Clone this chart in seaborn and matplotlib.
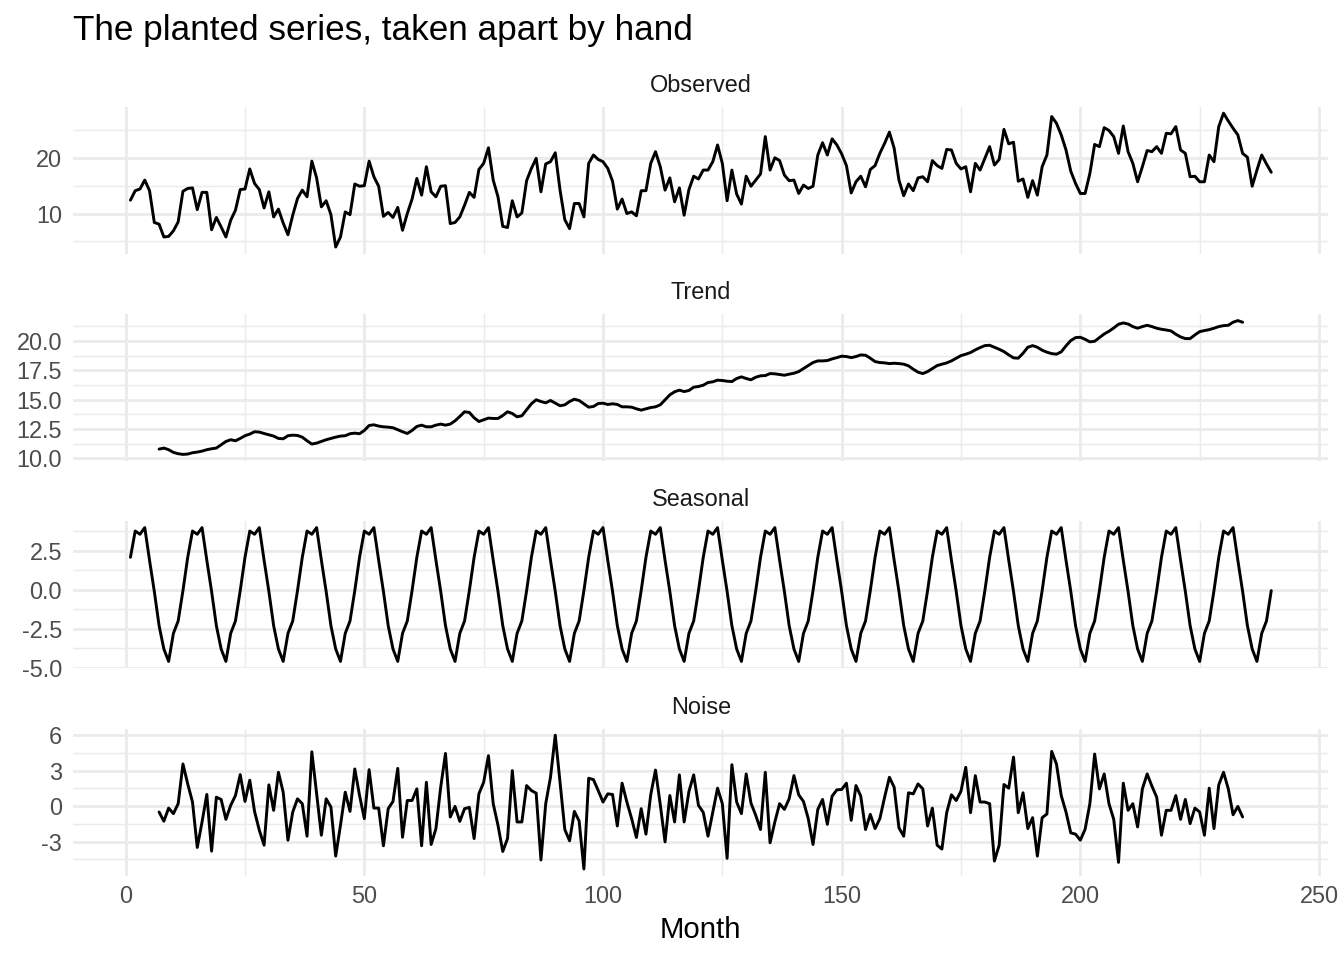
import numpy as np
import pandas as pd
import matplotlib
matplotlib.use("Agg")
import matplotlib.pyplot as plt
import seaborn as sns
from matplotlib.ticker import MultipleLocator, FormatStrFormatter

# ---- data ----
months = np.arange(1, 241)
observed = [
    12.4, 14.1, 14.4, 16.0, 14.1, 8.4, 8.1, 5.8, 5.9, 6.9,
    8.5, 14.0, 14.5, 14.6, 10.7, 13.8, 13.8, 7.1, 9.3, 7.6,
    5.8, 8.8, 10.6, 14.3, 14.4, 18.0, 15.4, 14.3, 11.0, 13.9,
    9.4, 10.8, 8.3, 6.2, 9.7, 12.7, 14.2, 13.0, 19.4, 16.4,
    11.2, 12.3, 9.8, 4.0, 5.8, 10.3, 9.8, 15.3, 14.9, 15.0,
    19.4, 16.6, 14.9, 9.5, 10.2, 9.3, 11.1, 7.0, 10.0, 12.6,
    16.3, 13.3, 18.4, 13.9, 13.0, 14.9, 15.0, 8.2, 8.4, 9.4,
    11.5, 13.8, 12.9, 17.9, 19.0, 21.8, 16.0, 13.0, 7.7, 7.5,
    12.3, 9.4, 10.1, 15.9, 18.1, 19.9, 13.9, 18.9, 19.3, 20.9,
    14.2, 8.9, 7.3, 11.8, 11.8, 9.4, 19.0, 20.5, 19.7, 19.3,
    18.1, 15.8, 10.8, 12.6, 10.0, 10.3, 9.6, 14.1, 14.1, 19.0,
    21.1, 18.4, 14.2, 16.4, 12.1, 14.6, 9.7, 14.3, 16.7, 16.2,
    17.8, 17.8, 19.3, 22.3, 19.0, 12.3, 17.8, 13.5, 11.7, 16.7,
    14.9, 16.0, 17.1, 23.8, 17.8, 20.0, 19.5, 16.9, 15.9, 16.0,
    13.6, 15.1, 14.5, 14.9, 20.5, 22.7, 20.5, 23.4, 22.3, 20.7,
    18.6, 13.7, 15.7, 16.7, 14.8, 17.9, 18.6, 20.8, 22.6, 24.6,
    21.7, 16.0, 13.2, 15.3, 14.1, 16.4, 16.6, 15.7, 19.5, 18.6,
    18.1, 21.5, 21.4, 19.0, 18.0, 18.4, 13.9, 19.0, 17.8, 19.9,
    22.0, 18.7, 19.7, 25.1, 22.5, 22.8, 15.8, 16.2, 12.9, 15.9,
    13.3, 18.4, 20.5, 27.4, 26.2, 24.1, 21.4, 17.6, 15.4, 13.6,
    13.6, 17.2, 22.4, 22.0, 25.4, 24.9, 23.8, 20.8, 25.7, 21.1,
    19.0, 15.7, 18.4, 21.3, 21.1, 22.0, 20.8, 24.4, 24.3, 25.6,
    21.4, 20.8, 16.6, 16.7, 15.7, 15.7, 20.5, 19.3, 25.6, 28.0,
    26.6, 25.3, 24.1, 20.8, 20.1, 14.9, 17.8, 20.5, 18.9, 17.4,
]

trend_months = np.arange(7, 235)
trend = [
    10.79, 10.88, 10.74, 10.51, 10.40, 10.34, 10.37, 10.48, 10.54, 10.62,
    10.74, 10.82, 10.88, 11.16, 11.44, 11.59, 11.50, 11.70, 11.93, 12.07,
    12.27, 12.24, 12.12, 12.01, 11.90, 11.70, 11.67, 11.93, 11.98, 11.95,
    11.81, 11.50, 11.22, 11.30, 11.44, 11.59, 11.70, 11.81, 11.90, 11.93,
    12.10, 12.15, 12.10, 12.38, 12.80, 12.86, 12.75, 12.69, 12.66, 12.61,
    12.44, 12.27, 12.12, 12.38, 12.72, 12.83, 12.69, 12.69, 12.83, 12.92,
    12.83, 12.92, 13.20, 13.57, 13.97, 13.91, 13.46, 13.14, 13.29, 13.43,
    13.40, 13.40, 13.65, 13.97, 13.82, 13.54, 13.63, 14.14, 14.65, 14.99,
    14.84, 14.73, 14.93, 14.70, 14.48, 14.56, 14.84, 15.04, 14.93, 14.65,
    14.36, 14.42, 14.67, 14.70, 14.59, 14.65, 14.59, 14.39, 14.39, 14.36,
    14.22, 14.11, 14.22, 14.33, 14.39, 14.56, 14.99, 15.41, 15.67, 15.81,
    15.69, 15.78, 16.06, 16.12, 16.23, 16.46, 16.52, 16.66, 16.63, 16.57,
    16.54, 16.80, 16.94, 16.80, 16.69, 16.91, 17.03, 17.05, 17.22, 17.20,
    17.14, 17.08, 17.17, 17.25, 17.39, 17.65, 17.90, 18.16, 18.30, 18.30,
    18.33, 18.47, 18.58, 18.70, 18.67, 18.58, 18.67, 18.81, 18.78, 18.53,
    18.24, 18.16, 18.13, 18.07, 18.10, 18.07, 18.02, 17.88, 17.59, 17.34,
    17.22, 17.39, 17.65, 17.90, 18.02, 18.13, 18.30, 18.53, 18.75, 18.87,
    19.01, 19.24, 19.43, 19.60, 19.63, 19.46, 19.29, 19.09, 18.81, 18.56,
    18.53, 18.95, 19.46, 19.60, 19.46, 19.21, 19.04, 18.92, 18.87, 19.07,
    19.58, 20.03, 20.28, 20.31, 20.14, 19.92, 19.97, 20.28, 20.59, 20.82,
    21.10, 21.42, 21.53, 21.44, 21.22, 21.08, 21.22, 21.33, 21.22, 21.08,
    20.99, 20.93, 20.85, 20.57, 20.34, 20.20, 20.20, 20.51, 20.79, 20.88,
    20.96, 21.08, 21.22, 21.30, 21.33, 21.59, 21.73, 21.59,
]

# one year of the seasonal pattern, repeated for every year shown
seasonal_pattern = [2.09, 3.78, 3.57, 4.00, 1.90, -0.10,
                    -2.30, -3.80, -4.60, -2.80, -2.00, -0.05]
seasonal = np.tile(seasonal_pattern, 20)

noise = [
    -0.50, -1.28, -0.17, -0.64, 0.20, 3.55, 1.87, 0.34, -3.49, -1.34,
    0.98, -3.80, 0.75, 0.56, -1.12, 0.06, 0.89, 2.65, 0.39, 2.18,
    -0.45, -2.04, -3.30, 1.79, -0.36, 2.85, 1.17, -2.88, -0.50, 0.61,
    0.20, -2.54, 4.58, 1.03, -2.46, 0.61, -0.08, -4.22, -1.62, 1.17,
    -0.45, 3.13, 0.89, -1.06, 3.07, -0.17, -0.17, -3.35, -0.22, 0.39,
    3.18, -2.63, 0.47, 0.47, 1.45, -3.35, 2.01, -3.24, -1.90, 1.59,
    4.44, -0.92, -0.03, -1.29, -0.22, -0.11, -2.74, 1.03, 2.01, 4.25,
    0.20, -1.62, -3.83, -2.74, 2.99, -1.34, -1.34, 1.73, 1.31, 1.09,
    -4.55, 0.20, 2.43, 5.98, 2.01, -1.98, -2.93, -0.45, -1.26, -5.31,
    2.35, 2.23, 1.31, 0.34, 1.03, 0.98, -1.68, 1.93, 0.34, -1.06,
    -2.65, -0.22, -2.37, 0.95, 3.04, 0.11, -3.02, 0.89, -1.34, 2.63,
    -1.34, 1.23, 2.63, 0.06, -0.53, -2.54, -0.50, 1.51, 0.20, -4.41,
    3.49, 0.34, -0.64, 2.71, 0.25, -0.78, -1.98, 2.85, -3.10, -1.34,
    0.20, -0.28, 0.61, 2.57, 0.95, 0.39, -1.06, -3.24, -0.28, 0.56,
    -1.54, 0.84, 1.37, 1.40, 1.93, -1.20, 1.73, 0.84, -1.98, -0.70,
    -1.90, -1.06, 0.75, 2.43, 1.59, -1.84, -2.54, 1.12, 1.03, 1.87,
    1.45, -1.68, -0.17, -3.30, -3.63, -0.56, 0.95, 0.47, 1.26, 3.27,
    -0.56, 2.57, 0.34, 0.34, 0.20, -4.64, -3.30, 1.82, 1.51, 4.13,
    -0.56, 1.12, -1.90, -0.98, -4.22, -0.98, -0.67, 4.61, 3.55, 0.89,
    -0.50, -2.26, -2.37, -2.88, -1.96, 0.20, 4.39, 1.45, 2.71, 0.20,
    -1.12, -4.75, 1.93, -0.36, 0.20, -1.76, 1.45, 2.71, 1.68, 0.75,
    -2.46, -0.36, -0.36, 0.89, -1.12, 0.56, -1.48, -0.17, -0.50, -2.46,
    1.51, -1.90, 1.79, 2.85, 1.45, -0.73, -0.03, -0.92,
]

title = "The planted series, taken apart by hand"
x_label = "Month"

# (strip label, x, y, major step, minor step, tick format)
panels = [
    ("Observed", months, observed, 10, 5, "%d"),
    ("Trend", trend_months, trend, 2.5, 1.25, "%.1f"),
    ("Seasonal", months, seasonal, 2.5, 1.25, "%.1f"),
    ("Noise", trend_months, noise, 3, 1.5, "%d"),
]

sns.set_theme(style="white")
plt.rcParams["font.family"] = ["Liberation Sans", "DejaVu Sans"]
plt.rcParams["axes.unicode_minus"] = False

W, H = 1344, 960
fig = plt.figure(figsize=(7, 5), dpi=192)

left, right = 73.4, 1328.3
panel_h = 147.2
tops = [106.5, 313.9, 520.9, 728.5]

grey_major = "#EBEBEB"
axes = []
for i, (name, x, y, major, minor, fmt) in enumerate(panels):
    top = tops[i]
    ax = fig.add_axes([left / W, 1 - (top + panel_h) / H,
                       (right - left) / W, panel_h / H],
                      sharex=axes[0] if axes else None)
    axes.append(ax)
    df = pd.DataFrame({"month": x, "value": y})
    sns.lineplot(data=df, x="month", y="value", ax=ax, color="black",
                 linewidth=1.1, sort=False)
    ax.set_xlabel("")
    ax.set_ylabel("")
    for s in ax.spines.values():
        s.set_visible(False)
    ax.yaxis.set_major_locator(MultipleLocator(major))
    ax.yaxis.set_minor_locator(MultipleLocator(minor))
    ax.yaxis.set_major_formatter(FormatStrFormatter(fmt))
    ax.xaxis.set_major_locator(MultipleLocator(50))
    ax.xaxis.set_minor_locator(MultipleLocator(25))
    ax.grid(True, which="major", color=grey_major, linewidth=1.07)
    ax.grid(True, which="minor", color=grey_major, linewidth=0.53)
    ax.set_axisbelow(True)
    ax.tick_params(which="both", length=0, labelsize=8.8,
                   labelcolor="#4D4D4D", pad=4.3)
    if i < len(panels) - 1:
        ax.tick_params(labelbottom=False)
    ax.annotate(name, xy=(0.5, 1), xycoords="axes fraction",
                xytext=(0, 8.0), textcoords="offset points",
                ha="center", va="center", fontsize=8.8, color="#1A1A1A")

axes[0].margins(x=0.05, y=0.05)
axes[-1].tick_params(axis="x", pad=3.5)

fig.text(left / W, 1 - 40 / H, title, fontsize=13.2, va="baseline",
         ha="left", color="black")
fig.text((left + right) / 2 / W, 1 - 930 / H, x_label, fontsize=11,
         ha="center", va="center", color="black")

fig.savefig("out.png", dpi=192)
